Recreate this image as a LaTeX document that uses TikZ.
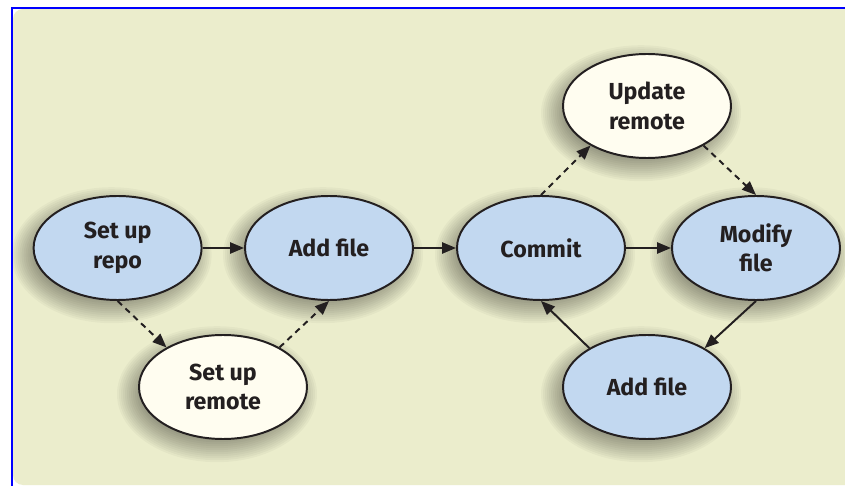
\documentclass[tikz,border=0pt]{standalone}
\usepackage{fontspec}
\setmainfont{Fira Sans}
\usetikzlibrary{arrows.meta,shapes.geometric}
\definecolor{panel}{RGB}{235,237,204}
\definecolor{stepblue}{RGB}{194,216,240}
\definecolor{stepcream}{RGB}{255,253,240}
\definecolor{ink}{RGB}{35,31,32}
\definecolor{frameblue}{RGB}{0,0,255}

\begin{document}
\begin{tikzpicture}[>={Triangle[length=0.35cm,width=0.28cm]},
	stepnode/.style={ellipse,draw=ink,line width=1.4pt,minimum width=4.2cm,minimum height=2.6cm,
		inner sep=0pt,align=center,text=ink,font=\fontsize{16.5}{21}\selectfont\bfseries},
	localstep/.style={stepnode,fill=stepblue},
	remotestep/.style={stepnode,fill=stepcream},
	softshade/.style={black,opacity=0.032},
	link/.style={->,draw=ink,line width=1.4pt},
	optlink/.style={link,dash pattern=on 0.15cm off 0.12cm}]
	% page and panel
	\useasboundingbox (0,0) rectangle (21.125,12.15);
	\fill[white] (0,0) rectangle (21.125,12.15);
	\fill[panel,rounded corners=0.25cm] (0.325,0.025) rectangle (21.5,11.925);
	\draw[frameblue,line width=1.5pt] (0.295,0)--(0.295,11.96)--(21.125,11.96);
	% soft shadows under the steps
	\foreach \p in {(2.94,5.95),(8.225,5.95),(13.525,5.95),(18.9,5.95),(5.575,2.475),(16.175,9.5),(16.175,2.475)}
		\foreach \k in {0,...,13}
			\fill[softshade,shift={\p}] (-0.15,-0.18) ellipse ({2.5-0.05*\k} and {1.7-0.05*\k});
	% steps
	\node[localstep] (repo) at (2.94,5.95) {Set up\\repo};
	\node[localstep] (addA) at (8.225,5.95) {Add file};
	\node[localstep] (commit) at (13.525,5.95) {Commit};
	\node[localstep] (modify) at (18.9,5.95) {Modify\\file};
	\node[remotestep] (remote) at (5.575,2.475) {Set up\\remote};
	\node[remotestep] (update) at (16.175,9.5) {Update\\remote};
	\node[localstep] (addB) at (16.175,2.475) {Add file};
	% main line
	\draw[link] (repo)--(addA);
	\draw[link] (addA)--(commit);
	\draw[link] (commit)--(modify);
	\draw[link] (modify.south)--(addB.34);
	\draw[link] (addB.146)--(commit.south);
	% remote side
	\draw[optlink] (repo.south)--(remote.145);
	\draw[optlink] (remote.35)--(addA.south);
	\draw[optlink] (commit.north)--(update.215);
	\draw[optlink] (update.-35)--(modify.north);
\end{tikzpicture}
\end{document}
